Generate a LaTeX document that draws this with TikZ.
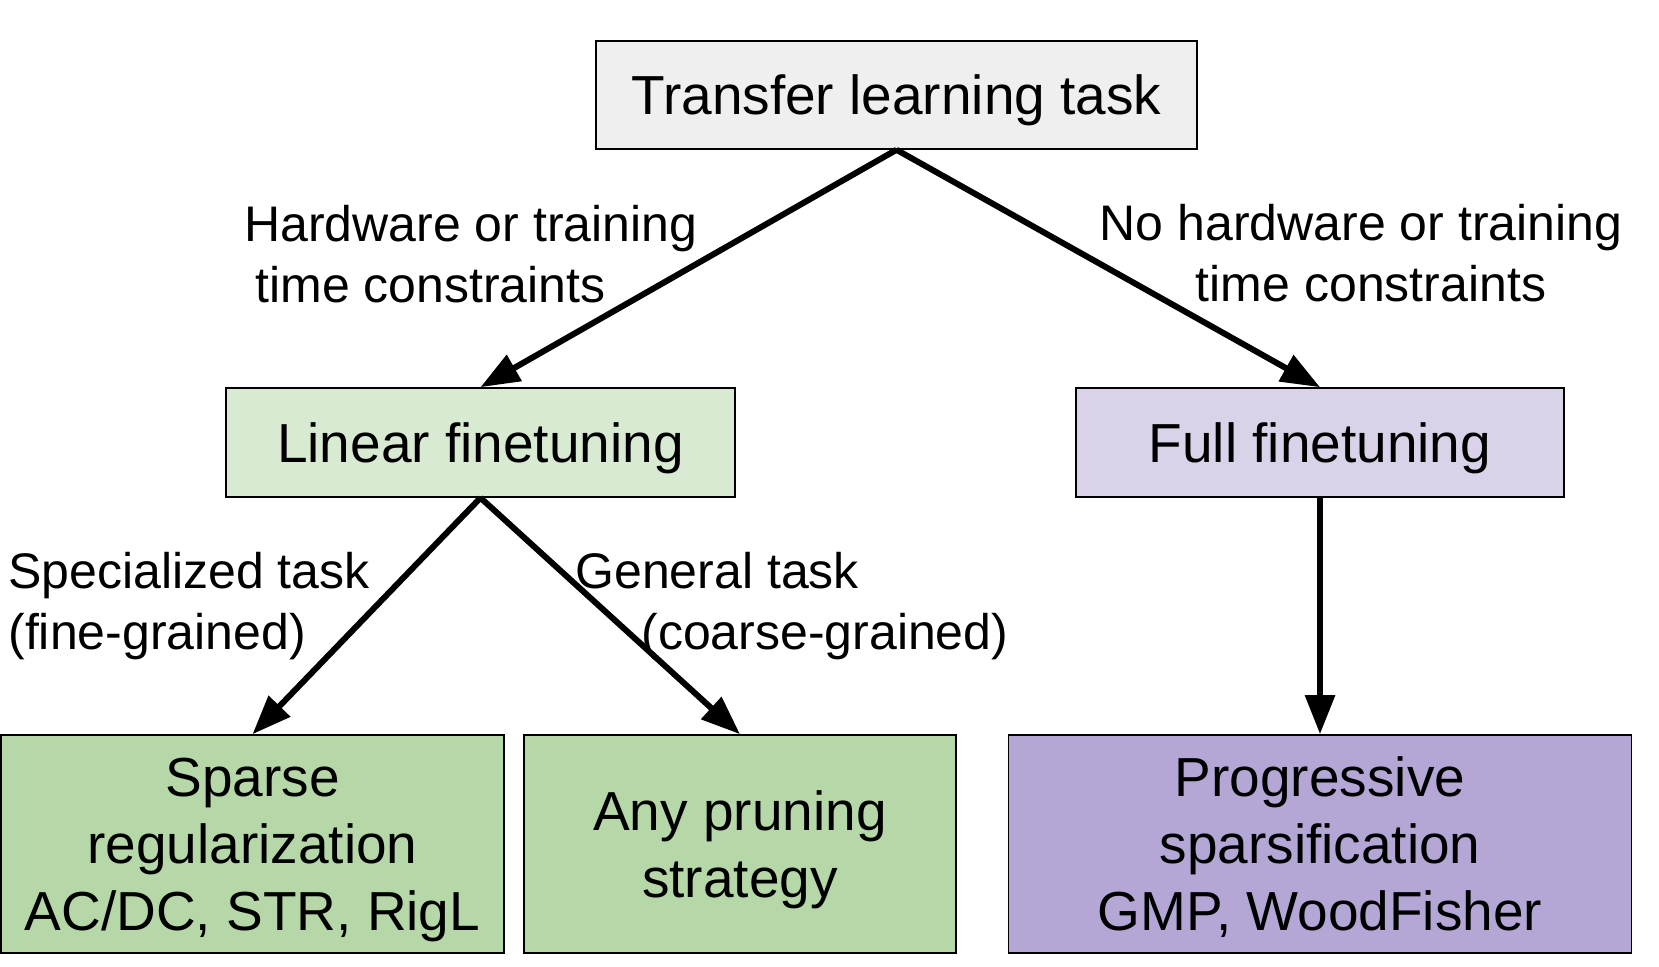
\documentclass[tikz,border=0pt]{standalone}
\usepackage{fontspec}
\setmainfont{Liberation Sans}
\usetikzlibrary{arrows.meta}
\definecolor{cgray}{HTML}{EFEFEF}
\definecolor{clgreen}{HTML}{D9EAD3}
\definecolor{clpurple}{HTML}{D9D2E9}
\definecolor{cgreen}{HTML}{B6D7A8}
\definecolor{cpurple}{HTML}{B4A7D6}
\begin{document}
\begin{tikzpicture}[x=0.5pt,y=-0.5pt,
  box/.style={draw=black, line width=0.8pt, inner sep=0pt, align=center,
    font=\fontsize{27.5}{33.5}\selectfont},
  one/.style={text height=20pt, text depth=0pt},
  multi/.style={text depth=0pt},
  lbl/.style={inner sep=0pt, font=\fontsize{25}{30.5}\selectfont},
  arr/.style={line width=3pt, -{Triangle[length=19.5pt,width=14.5pt]}}]
\path[use as bounding box] (0,0) rectangle (1659,967);

\node[box, one, fill=cgray, minimum width=300.5pt, minimum height=54pt] (top) at (896.5,95) {Transfer learning task};
\node[box, one, fill=clgreen, minimum width=254.5pt, minimum height=54.5pt] (lin) at (480.5,442.5) {Linear finetuning};
\node[box, one, fill=clpurple, minimum width=244pt, minimum height=54.5pt] (full) at (1320,442.5) {Full finetuning};
\node[box, multi, fill=cgreen, minimum width=251.5pt, minimum height=109pt] (sparse) at (252.5,844) {Sparse\\regularization\\AC/DC, STR, RigL};
\node[box, multi, fill=cgreen, minimum width=216pt, minimum height=109pt] (any) at (740,844) {Any pruning\\strategy};
\node[box, multi, fill=cpurple, minimum width=311.5pt, minimum height=109pt] (prog) at (1320,844) {Progressive\\sparsification\\GMP, WoodFisher};

\draw[arr] (top.south) -- (lin.north);
\draw[arr] (top.south) -- (full.north);
\draw[arr] (lin.south) -- (sparse.north);
\draw[arr] (lin.south) -- (any.north);
\draw[arr] (full.south) -- (prog.north);

\node[lbl, anchor=base west, align=left] (lhw) at (244,303) {Hardware or training\\\hspace*{5.5pt}time constraints};
\node[lbl, anchor=base, align=center] (lnohw) at (1361,302) {No hardware or training\\\hspace*{10pt}time constraints};
\node[lbl, anchor=base west, align=left] (lspec) at (8,649) {Specialized task\\(fine-grained)};
\node[lbl, anchor=base west, align=left] (lgen) at (575,649) {General task\\\hspace*{33pt}(coarse-grained)};
\end{tikzpicture}
\end{document}
